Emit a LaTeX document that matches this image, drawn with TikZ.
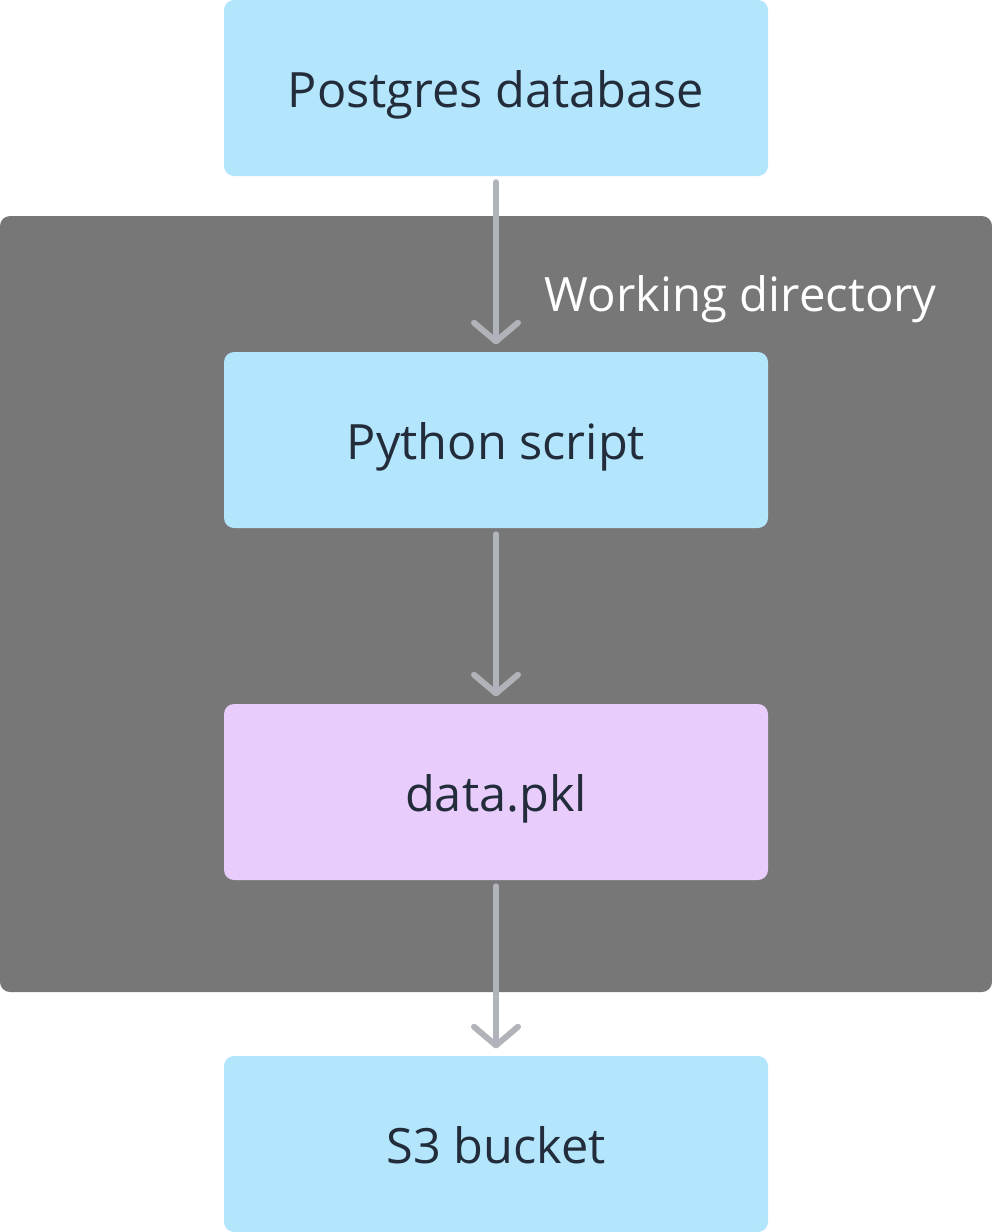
\documentclass[tikz,border=0pt]{standalone}
\usepackage{fontspec}
\setmainfont{Open Sans}
\usetikzlibrary{arrows.meta}
\definecolor{boxblue}{HTML}{B3E5FC}
\definecolor{boxlav}{HTML}{E8CCFC}
\definecolor{wdgray}{HTML}{777777}
\definecolor{arrgray}{HTML}{B0B4BA}
\definecolor{txt}{HTML}{222C3A}
\tikzset{
  px/.style={x=0.75pt,y=-0.75pt},
  procbox/.style={rectangle, rounded corners=7.5pt, minimum width=408pt, minimum height=132pt, inner sep=0pt, text=txt, text height=28.5pt, text depth=0pt, font=\fontsize{36.5}{44}\selectfont},
  flow/.style={draw=arrgray, line width=4.5pt, line cap=round, -{Straight Barb[length=14pt, width=33pt, line cap=round, line join=round]}},
}
\begin{document}
\begin{tikzpicture}[px]
\useasboundingbox (0,0) rectangle (992,1232);
\node[fill=wdgray, rounded corners=7.5pt, minimum width=744pt, minimum height=582pt, inner sep=0pt] (wd) at (496,604) {};
\node[text=white, font=\fontsize{35.5}{44}\selectfont, anchor=base east, inner sep=0pt] (wdlabel) at (937,311) {Working directory};
\node[procbox, fill=boxblue] (pg) at (496,88) {Postgres database};
\node[procbox, fill=boxblue] (py) at (496,440) {Python script};
\node[procbox, fill=boxlav] (pkl) at (496,792) {data.pkl};
\node[procbox, fill=boxblue] (s3) at (496,1144) {S3 bucket};
\draw[flow] ([yshift=-4.5pt]pg.south) -- ([yshift=5.5pt]py.north);
\draw[flow] ([yshift=-4.5pt]py.south) -- ([yshift=5.5pt]pkl.north);
\draw[flow] ([yshift=-4.5pt]pkl.south) -- ([yshift=5.5pt]s3.north);
\end{tikzpicture}
\end{document}
